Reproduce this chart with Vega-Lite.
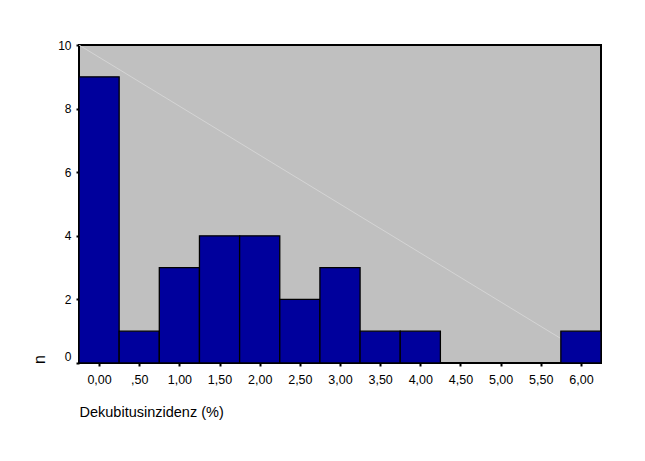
{
  "$schema": "https://vega.github.io/schema/vega-lite/v6.json",
  "autosize": {"type": "none"},
  "width": 522,
  "height": 318,
  "padding": {"left": 79, "top": 45, "right": 44, "bottom": 98},
  "background": "white",
  "config": {
    "font": "Liberation Sans",
    "view": {"fill": "#c0c0c0", "stroke": "black", "strokeWidth": 2},
    "axis": {"grid": false, "domain": false, "labelColor": "black", "titleColor": "black", "titleFontWeight": "normal", "tickColor": "black"}
  },
  "layer": [
    {
      "data": {"values": [{"x": -0.25, "y": 10, "x2": 6.25, "y2": 0}]},
      "mark": {"type": "rule", "color": "#d4d4d4", "strokeWidth": 1, "clip": true},
      "encoding": {
        "x": {"field": "x", "type": "quantitative", "scale": {"domain": [-0.25, 6.25], "nice": false, "zero": false}},
        "y": {"field": "y", "type": "quantitative", "scale": {"domain": [0, 10], "nice": false}},
        "x2": {"field": "x2"},
        "y2": {"field": "y2"}
      }
    },
    {
      "data": {"values": [
        {"start": -0.25, "end": 0.25, "n": 9},
        {"start": 0.25, "end": 0.75, "n": 1},
        {"start": 0.75, "end": 1.25, "n": 3},
        {"start": 1.25, "end": 1.75, "n": 4},
        {"start": 1.75, "end": 2.25, "n": 4},
        {"start": 2.25, "end": 2.75, "n": 2},
        {"start": 2.75, "end": 3.25, "n": 3},
        {"start": 3.25, "end": 3.75, "n": 1},
        {"start": 3.75, "end": 4.25, "n": 1},
        {"start": 4.25, "end": 4.75, "n": 0},
        {"start": 4.75, "end": 5.25, "n": 0},
        {"start": 5.25, "end": 5.75, "n": 0},
        {"start": 5.75, "end": 6.25, "n": 1}
      ]},
      "mark": {"type": "bar", "fill": "#00009c", "stroke": "black", "strokeWidth": 1.3},
      "encoding": {
        "x": {
          "field": "start", "type": "quantitative",
          "scale": {"domain": [-0.25, 6.25], "nice": false, "zero": false},
          "axis": {
            "values": [0, 0.5, 1, 1.5, 2, 2.5, 3, 3.5, 4, 4.5, 5, 5.5, 6],
            "labelExpr": "datum.value == 0.5 ? ',50' : replace(format(datum.value, '.2f'), '.', ',')",
            "labelFontSize": 12.5,
            "labelPadding": 7,
            "tickSize": 3, "tickWidth": 2, "tickOffset": 0,
            "title": "Dekubitusinzidenz (%)",
            "titleFontSize": 14.5,
            "titleX": 0, "titleY": 49,
            "titleAlign": "left", "titleBaseline": "middle", "titleAnchor": "start"
          }
        },
        "x2": {"field": "end"},
        "y": {
          "field": "n", "type": "quantitative",
          "scale": {"domain": [0, 10], "nice": false},
          "axis": {
            "values": [0, 2, 4, 6, 8, 10],
            "labelFontSize": 12,
            "labelPadding": 5,
            "labelBaseline": {"condition": {"test": "datum.value == 0", "value": "bottom"}, "value": "middle"},
            "tickSize": 3, "tickWidth": 2,
            "title": "n",
            "titleFontSize": 16,
            "titleAngle": -90,
            "titleX": -40, "titleY": 314,
            "titleAlign": "center", "titleBaseline": "middle"
          }
        },
        "y2": {"datum": 0}
      }
    }
  ]
}
